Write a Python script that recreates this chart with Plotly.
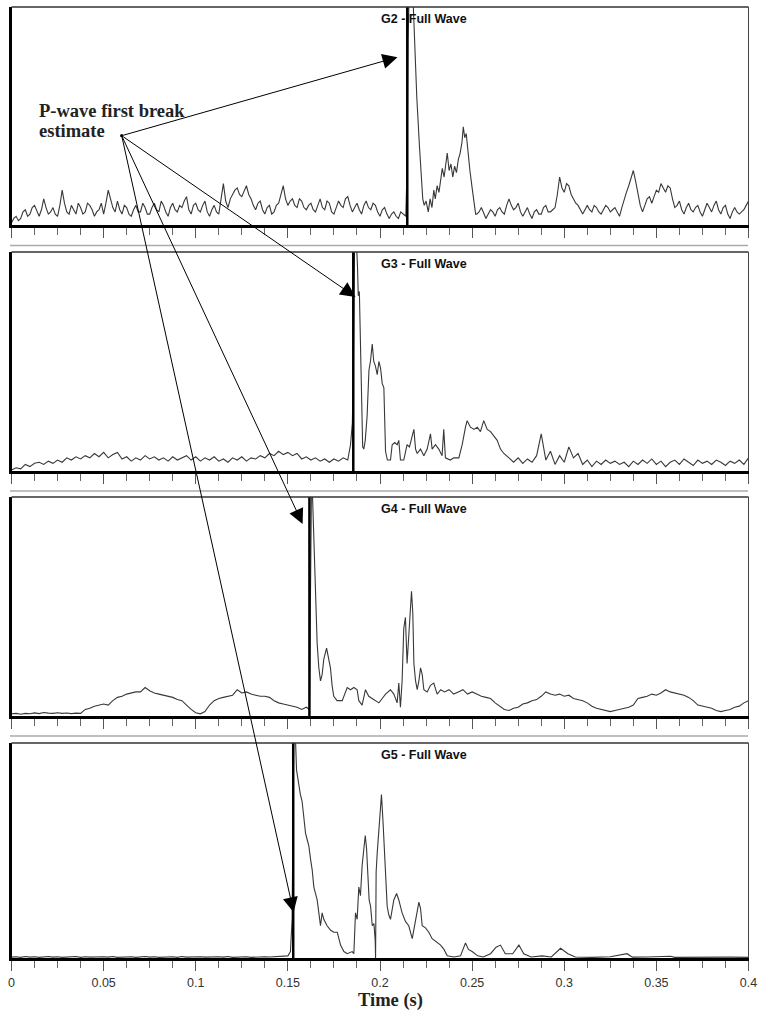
import plotly.graph_objects as go

# ---------------- data ----------------
TICK_VALUES = [0, 0.05, 0.1, 0.15, 0.2, 0.25, 0.3, 0.35, 0.4]
TICK_LABELS = ["0", "0.05", "0.1", "0.15", "0.2", "0.25", "0.3", "0.35", "0.4"]
PANEL_TITLES = ["G2 - Full Wave", "G3 - Full Wave", "G4 - Full Wave", "G5 - Full Wave"]
FIRST_BREAK = [0.2148, 0.1855, 0.1617, 0.1529]          # s, picked first-break lines
ARROW_TIP_T = [0.2095, 0.1867, 0.1580, 0.1531]           # s
ARROW_TIP_A = [0.77, 0.795, 0.877, 0.213]                # normalised amplitude

# G2 (noise read every 0.00125 s) -------------------------------
G2_STEP = 0.00125
G2_LEAD = [0.01, 0.03, 0.04, 0.02, 0.03, 0.06, 0.07, 0.04, 0.05, 0.08, 0.09, 0.06, 0.04, 0.07, 0.12, 0.08, 0.05, 0.06, 0.08, 0.05,
           0.04, 0.09, 0.16, 0.10, 0.06, 0.05, 0.09, 0.07, 0.05, 0.10, 0.08, 0.05, 0.06, 0.10, 0.09, 0.07, 0.04, 0.06, 0.07, 0.10,
           0.05, 0.10, 0.16, 0.12, 0.08, 0.06, 0.11, 0.07, 0.05, 0.09, 0.08, 0.05, 0.04, 0.07, 0.09, 0.06, 0.06, 0.10, 0.08, 0.05,
           0.05, 0.08, 0.10, 0.07, 0.06, 0.11, 0.09, 0.06, 0.04, 0.08, 0.10, 0.07, 0.06, 0.09, 0.08, 0.11, 0.13, 0.07, 0.05, 0.09,
           0.10, 0.07, 0.06, 0.09, 0.11, 0.06, 0.04, 0.07, 0.09, 0.06, 0.05, 0.12, 0.19, 0.11, 0.08, 0.12, 0.14, 0.16, 0.17, 0.14,
           0.13, 0.16, 0.18, 0.14, 0.12, 0.09, 0.07, 0.10, 0.11, 0.07, 0.05, 0.08, 0.09, 0.05, 0.06, 0.09, 0.10, 0.14, 0.18, 0.12,
           0.09, 0.11, 0.12, 0.09, 0.08, 0.12, 0.11, 0.08, 0.07, 0.09, 0.10, 0.07, 0.06, 0.09, 0.12, 0.08, 0.07, 0.11, 0.10, 0.06,
           0.05, 0.08, 0.11, 0.09, 0.08, 0.12, 0.13, 0.09, 0.06, 0.08, 0.10, 0.07, 0.05, 0.09, 0.11, 0.08, 0.07, 0.10, 0.09, 0.06,
           0.04, 0.07, 0.08, 0.05, 0.03, 0.05, 0.06, 0.04, 0.03, 0.06, 0.05]
G2_BURST = [(0.2140, 0.04), (0.2148, 0.30), (0.2152, 0.85), (0.2158, 1.05), (0.2170, 1.08),
            (0.2180, 1.02), (0.2186, 0.88), (0.2200, 0.58), (0.2215, 0.35), (0.2222, 0.26),
            (0.2232, 0.12), (0.2240, 0.09), (0.2250, 0.11), (0.2262, 0.06), (0.2272, 0.12),
            (0.2282, 0.08), (0.2292, 0.16), (0.2300, 0.12), (0.2310, 0.18), (0.2320, 0.15),
            (0.2330, 0.21), (0.2338, 0.26), (0.2348, 0.22), (0.2358, 0.30), (0.2365, 0.33),
            (0.2375, 0.25), (0.2385, 0.28), (0.2395, 0.22), (0.2405, 0.27), (0.2415, 0.24),
            (0.2425, 0.30), (0.2435, 0.33), (0.2445, 0.38), (0.2452, 0.45), (0.2460, 0.40),
            (0.2468, 0.42), (0.2478, 0.33), (0.2488, 0.25), (0.2500, 0.17), (0.2510, 0.10),
            (0.2519, 0.05)]
G2_TAIL_START = 0.2525
G2_TAIL = [0.05, 0.06, 0.08, 0.05, 0.03, 0.05, 0.07, 0.06, 0.04, 0.07, 0.08, 0.06, 0.05, 0.09, 0.12, 0.09, 0.07, 0.08, 0.10, 0.06,
           0.04, 0.06, 0.08, 0.05, 0.03, 0.06, 0.07, 0.05, 0.05, 0.08, 0.09, 0.06, 0.06, 0.07, 0.08, 0.14, 0.22, 0.17, 0.15, 0.19,
           0.18, 0.14, 0.12, 0.10, 0.09, 0.07, 0.05, 0.07, 0.09, 0.07, 0.06, 0.09, 0.08, 0.06, 0.05, 0.07, 0.09, 0.08, 0.06, 0.07,
           0.08, 0.06, 0.04, 0.08, 0.12, 0.15, 0.18, 0.21, 0.25, 0.20, 0.15, 0.09, 0.06, 0.09, 0.12, 0.13, 0.10, 0.13, 0.16, 0.15,
           0.19, 0.17, 0.15, 0.18, 0.17, 0.12, 0.08, 0.09, 0.11, 0.07, 0.05, 0.08, 0.10, 0.07, 0.06, 0.08, 0.09, 0.06, 0.04, 0.07,
           0.10, 0.08, 0.06, 0.09, 0.11, 0.07, 0.05, 0.08, 0.09, 0.05, 0.03, 0.06, 0.08, 0.06, 0.05, 0.06, 0.07, 0.09, 0.11]

# G3 (noise read every 0.0025 s) --------------------------------
G3_STEP = 0.0025
G3_LEAD = [0.005, 0.015, 0.01, 0.03, 0.02, 0.035, 0.04, 0.03, 0.045, 0.035,
           0.05, 0.04, 0.06, 0.05, 0.065, 0.055, 0.07, 0.06, 0.08, 0.065,
           0.085, 0.06, 0.075, 0.085, 0.055, 0.065, 0.045, 0.06, 0.05, 0.07,
           0.055, 0.065, 0.05, 0.06, 0.045, 0.065, 0.05, 0.06, 0.07, 0.05,
           0.065, 0.045, 0.06, 0.05, 0.065, 0.045, 0.055, 0.04, 0.06, 0.05,
           0.065, 0.045, 0.06, 0.055, 0.07, 0.06, 0.08, 0.07, 0.09, 0.075,
           0.085, 0.07, 0.08, 0.055, 0.065, 0.05, 0.06, 0.045, 0.055, 0.04,
           0.055, 0.045, 0.06, 0.05]
G3_BURST = [(0.1840, 0.12), (0.1850, 0.22), (0.1856, 0.50), (0.1862, 1.05), (0.1872, 1.05),
            (0.1878, 0.93), (0.1882, 0.80), (0.1888, 0.82), (0.1894, 0.59), (0.1900, 0.29),
            (0.1906, 0.11), (0.1912, 0.10), (0.1920, 0.14), (0.1930, 0.25), (0.1940, 0.46),
            (0.1948, 0.50), (0.1958, 0.58), (0.1966, 0.50), (0.1975, 0.48), (0.1985, 0.44),
            (0.1994, 0.50), (0.2003, 0.47), (0.2012, 0.40), (0.2021, 0.38), (0.2026, 0.22),
            (0.2030, 0.09), (0.2040, 0.05), (0.2057, 0.05), (0.2066, 0.12), (0.2080, 0.13),
            (0.2093, 0.12), (0.2102, 0.14), (0.2111, 0.05), (0.2129, 0.05), (0.2147, 0.12),
            (0.2160, 0.11), (0.2175, 0.16), (0.2184, 0.19), (0.2193, 0.10), (0.2202, 0.08),
            (0.2220, 0.10), (0.2238, 0.07), (0.2256, 0.10), (0.2274, 0.17), (0.2283, 0.10),
            (0.2301, 0.12), (0.2319, 0.10), (0.2337, 0.07), (0.2346, 0.19), (0.2355, 0.06),
            (0.2382, 0.05), (0.2400, 0.06), (0.2428, 0.06), (0.2446, 0.12), (0.2464, 0.20),
            (0.2473, 0.23), (0.2491, 0.20), (0.2510, 0.19), (0.2528, 0.20), (0.2545, 0.18),
            (0.2563, 0.23), (0.2582, 0.19), (0.2600, 0.18), (0.2618, 0.16), (0.2636, 0.14),
            (0.2654, 0.10), (0.2672, 0.08)]
G3_TAIL_START = 0.2700
G3_TAIL = [0.06, 0.04, 0.06, 0.035, 0.055, 0.04, 0.07, 0.17, 0.05, 0.09,
           0.03, 0.07, 0.04, 0.11, 0.06, 0.08, 0.03, 0.05, 0.02, 0.045,
           0.03, 0.05, 0.035, 0.045, 0.03, 0.04, 0.02, 0.045, 0.03, 0.05,
           0.035, 0.055, 0.03, 0.045, 0.02, 0.04, 0.05, 0.03, 0.055, 0.04,
           0.025, 0.05, 0.035, 0.045, 0.03, 0.05, 0.04, 0.025, 0.045, 0.035,
           0.05, 0.03, 0.06]

# G4 (baseline read every 0.0025 s) -----------------------------
G4_STEP = 0.0025
G4_LEAD = [0.01, 0.012, 0.008, 0.012, 0.01, 0.014, 0.011, 0.016, 0.013, 0.012,
           0.015, 0.012, 0.014, 0.011, 0.013, 0.012, 0.03, 0.035, 0.045, 0.05,
           0.055, 0.05, 0.07, 0.085, 0.09, 0.10, 0.105, 0.11, 0.11, 0.13,
           0.115, 0.105, 0.10, 0.095, 0.09, 0.085, 0.075, 0.07, 0.05, 0.03,
           0.015, 0.01, 0.02, 0.05, 0.07, 0.08, 0.085, 0.09, 0.095, 0.12,
           0.105, 0.11, 0.10, 0.095, 0.09, 0.09, 0.085, 0.07, 0.06, 0.055,
           0.05, 0.045, 0.04, 0.03, 0.04]
G4_BURST = [(0.1617, 0.03), (0.1622, 0.60), (0.1628, 1.05), (0.1632, 1.05), (0.1637, 0.92),
            (0.1641, 0.83), (0.1648, 0.63), (0.1654, 0.43), (0.1659, 0.33), (0.1668, 0.22),
            (0.1677, 0.16), (0.1686, 0.19), (0.1695, 0.26), (0.1710, 0.31), (0.1719, 0.27),
            (0.1731, 0.22), (0.1740, 0.14), (0.1749, 0.09), (0.1767, 0.07), (0.1795, 0.07),
            (0.1822, 0.13), (0.1840, 0.12), (0.1858, 0.13), (0.1876, 0.12), (0.1885, 0.07),
            (0.1903, 0.05), (0.1921, 0.12), (0.1939, 0.09), (0.1957, 0.08), (0.1976, 0.07),
            (0.1994, 0.06), (0.2012, 0.08), (0.2030, 0.10), (0.2057, 0.12), (0.2075, 0.10),
            (0.2093, 0.06), (0.2102, 0.15), (0.2111, 0.04), (0.2120, 0.16), (0.2129, 0.40),
            (0.2138, 0.45), (0.2147, 0.24), (0.2156, 0.38), (0.2165, 0.51), (0.2171, 0.57),
            (0.2178, 0.47), (0.2184, 0.24), (0.2193, 0.16), (0.2202, 0.12), (0.2211, 0.16),
            (0.2220, 0.22), (0.2229, 0.19), (0.2238, 0.12), (0.2256, 0.11), (0.2274, 0.14),
            (0.2292, 0.15), (0.2310, 0.10), (0.2330, 0.12), (0.2350, 0.11)]
G4_TAIL_START = 0.2375
G4_TAIL = [0.12, 0.10, 0.11, 0.12, 0.10, 0.11, 0.10, 0.09, 0.085, 0.08,
           0.06, 0.045, 0.03, 0.025, 0.035, 0.04, 0.055, 0.06, 0.07, 0.075,
           0.09, 0.11, 0.10, 0.095, 0.10, 0.09, 0.095, 0.08, 0.075, 0.07,
           0.06, 0.045, 0.035, 0.03, 0.025, 0.02, 0.025, 0.03, 0.035, 0.04,
           0.05, 0.08, 0.085, 0.09, 0.10, 0.095, 0.105, 0.12, 0.11, 0.105,
           0.10, 0.095, 0.085, 0.07, 0.05, 0.045, 0.04, 0.035, 0.025, 0.02,
           0.025, 0.03, 0.04, 0.045, 0.06, 0.07]

# G5 (quiet lead read every 0.0025 s) ---------------------------
G5_STEP = 0.0025
G5_LEAD = [0.004, 0.006, 0.003, 0.007, 0.004, 0.006, 0.003, 0.005, 0.007, 0.004,
           0.006, 0.003, 0.005, 0.004, 0.007, 0.003, 0.006, 0.004, 0.005, 0.003,
           0.006, 0.004, 0.007, 0.003, 0.005, 0.004, 0.006, 0.003, 0.005, 0.007,
           0.004, 0.006, 0.003, 0.005, 0.004, 0.006, 0.003, 0.007, 0.004, 0.005,
           0.003, 0.006, 0.004, 0.005, 0.003, 0.006, 0.004, 0.007, 0.003, 0.005,
           0.004, 0.006, 0.003, 0.005, 0.004, 0.006, 0.005, 0.007, 0.006, 0.008,
           0.01]
G5_BURST = [(0.1514, 0.03), (0.1523, 0.18), (0.1532, 1.05), (0.1540, 1.05), (0.1547, 0.875),
            (0.1559, 0.80), (0.1568, 0.76), (0.1577, 0.73), (0.1587, 0.63), (0.1596, 0.58),
            (0.1605, 0.55), (0.1614, 0.52), (0.1623, 0.46), (0.1632, 0.41), (0.1641, 0.33),
            (0.1659, 0.27), (0.1668, 0.21), (0.1677, 0.15), (0.1686, 0.21), (0.1695, 0.18),
            (0.1713, 0.15), (0.1731, 0.13), (0.1749, 0.12), (0.1768, 0.12), (0.1777, 0.09),
            (0.1786, 0.06), (0.1804, 0.03), (0.1822, 0.02), (0.1849, 0.03), (0.1858, 0.02),
            (0.1867, 0.21), (0.1876, 0.18), (0.1885, 0.33), (0.1894, 0.29), (0.1903, 0.43),
            (0.1912, 0.49), (0.1920, 0.57), (0.1927, 0.51), (0.1934, 0.35), (0.1941, 0.27),
            (0.1949, 0.24), (0.1958, 0.15), (0.1967, 0.16), (0.1974, 0.08), (0.1976, 0.0),
            (0.1979, 0.40), (0.1985, 0.49), (0.1994, 0.58), (0.2003, 0.70), (0.2008, 0.76),
            (0.2016, 0.64), (0.2021, 0.55), (0.2030, 0.40), (0.2039, 0.24), (0.2048, 0.20),
            (0.2057, 0.18), (0.2075, 0.27), (0.2090, 0.30), (0.2102, 0.27), (0.2120, 0.21),
            (0.2138, 0.17), (0.2156, 0.15), (0.2175, 0.09), (0.2193, 0.18), (0.2211, 0.26),
            (0.2220, 0.23), (0.2229, 0.15), (0.2247, 0.14), (0.2265, 0.12), (0.2283, 0.09),
            (0.2310, 0.07), (0.2329, 0.06), (0.2347, 0.04), (0.2365, 0.01), (0.2401, 0.005),
            (0.2437, 0.01), (0.2464, 0.07), (0.2480, 0.04), (0.2500, 0.03), (0.2530, 0.01),
            (0.2560, 0.005), (0.2600, 0.02), (0.2630, 0.05), (0.2654, 0.06), (0.2680, 0.02),
            (0.2720, 0.02), (0.2754, 0.06), (0.2780, 0.02), (0.2820, 0.005), (0.2880, 0.01),
            (0.2930, 0.005), (0.2980, 0.045), (0.3020, 0.02), (0.3060, 0.005), (0.3150, 0.003),
            (0.3250, 0.006), (0.3341, 0.02), (0.3370, 0.004), (0.3450, 0.005), (0.3577, 0.008),
            (0.3600, 0.003), (0.3700, 0.004), (0.3800, 0.003), (0.3900, 0.004), (0.4000, 0.003)]
G5_TAIL_START = 0.4
G5_TAIL = []

PANELS = [
    (G2_STEP, G2_LEAD, G2_BURST, G2_TAIL_START, G2_TAIL),
    (G3_STEP, G3_LEAD, G3_BURST, G3_TAIL_START, G3_TAIL),
    (G4_STEP, G4_LEAD, G4_BURST, G4_TAIL_START, G4_TAIL),
    (G5_STEP, G5_LEAD, G5_BURST, G5_TAIL_START, G5_TAIL),
]

# ---------------- layout geometry (page pixels) ----------------
W, H = 760, 1010
X_LEFT_PX, X_RIGHT_PX = 11.5, 748.5
PANEL_PX = [(7, 225), (252, 471), (497, 716), (743, 958)]   # (top, bottom)
SEPARATOR_PX = [245.5, 491.0, 736.0]
LABEL_TAIL_PX = (121.7, 135.7)
X_MAX = 0.4

FONT_SANS = "Liberation Sans, Arial, sans-serif"
FONT_SERIF = "Liberation Serif, Times New Roman, serif"
TRACE_COLOR = "#383838"


def px_x(px):
    return min(1.0, max(0.0, px / W))


def px_y(py):
    return min(1.0, max(0.0, 1 - py / H))


def t_to_px(t):
    return X_LEFT_PX + t / X_MAX * (X_RIGHT_PX - X_LEFT_PX)


def a_to_py(a, panel):
    top, bot = PANEL_PX[panel]
    return bot - a * (bot - top)


fig = go.Figure()
layout = dict(
    width=W, height=H,
    margin=dict(l=0, r=0, t=0, b=0, pad=0),
    paper_bgcolor="white", plot_bgcolor="white",
    showlegend=False,
)

shapes = []
annotations = []

for i, (step, lead, burst, tail_start, tail) in enumerate(PANELS):
    n = "" if i == 0 else str(i + 1)
    xa, ya = "x" + n, "y" + n
    top, bot = PANEL_PX[i]

    t_vals = [k * step for k in range(len(lead))]
    a_vals = list(lead)
    t_vals += [p[0] for p in burst]
    a_vals += [p[1] for p in burst]
    t_vals += [tail_start + k * step for k in range(len(tail))]
    a_vals += list(tail)

    fig.add_trace(go.Scatter(x=t_vals, y=a_vals, mode="lines", xaxis=xa, yaxis=ya,
                             line=dict(color=TRACE_COLOR, width=1.1), hoverinfo="skip"))
    fig.add_trace(go.Scatter(x=[FIRST_BREAK[i], FIRST_BREAK[i]], y=[0, 1], mode="lines",
                             xaxis=xa, yaxis=ya, line=dict(color="black", width=2.5),
                             hoverinfo="skip"))

    last = i == len(PANELS) - 1
    layout["xaxis" + n] = dict(
        domain=[px_x(X_LEFT_PX), px_x(X_RIGHT_PX)], anchor=ya, range=[0, X_MAX],
        showgrid=False, zeroline=False, showline=True, linecolor="black", linewidth=3,
        tickmode="array", tickvals=TICK_VALUES, ticktext=TICK_LABELS,
        ticks="outside", ticklen=10, tickwidth=1, tickcolor="#555",
        minor=dict(tickmode="linear", tick0=0, dtick=0.0125, ticks="outside",
                   ticklen=7, tickwidth=1, tickcolor="#666"),
        showticklabels=last, ticklabelstandoff=1,
        tickfont=dict(family=FONT_SANS, size=12.5, color="#333"),
        automargin=False, fixedrange=True,
    )
    layout["yaxis" + n] = dict(
        domain=[px_y(bot), px_y(top)], anchor=xa, range=[0, 1],
        showgrid=False, zeroline=False, showline=True, linecolor="black", linewidth=3,
        showticklabels=False, ticks="", automargin=False, fixedrange=True,
    )

    # top and right frame
    shapes.append(dict(type="line", xref=xa + " domain", yref=ya + " domain",
                       x0=0, x1=1, y0=1, y1=1, line=dict(color="#333", width=1.5)))
    shapes.append(dict(type="line", xref=xa + " domain", yref=ya + " domain",
                       x0=1, x1=1, y0=0, y1=1, line=dict(color="#444", width=1)))

    # panel title
    annotations.append(dict(text="<b>" + PANEL_TITLES[i] + "</b>", xref="paper", yref="paper",
                            x=px_x(424), y=px_y(top + 12), xanchor="center", yanchor="middle",
                            showarrow=False, font=dict(family=FONT_SANS, size=12.5, color="#111")))

    # arrow from the label to the pick
    tip_px = t_to_px(ARROW_TIP_T[i])
    tip_py = a_to_py(ARROW_TIP_A[i], i)
    annotations.append(dict(text="", x=ARROW_TIP_T[i], y=ARROW_TIP_A[i], xref=xa, yref=ya,
                            showarrow=True, axref="pixel", ayref="pixel",
                            ax=LABEL_TAIL_PX[0] - tip_px, ay=LABEL_TAIL_PX[1] - tip_py,
                            arrowhead=2, arrowsize=3, arrowwidth=1, arrowcolor="black",
                            standoff=0))

# separators
for sy in SEPARATOR_PX:
    shapes.append(dict(type="line", xref="paper", yref="paper", x0=px_x(10), x1=px_x(748),
                       y0=px_y(sy), y1=px_y(sy), line=dict(color="#aaaaaa", width=1.5)))

# label dot
r = 1.6
shapes.append(dict(type="circle", xref="paper", yref="paper",
                   x0=px_x(LABEL_TAIL_PX[0] - r), x1=px_x(LABEL_TAIL_PX[0] + r),
                   y0=px_y(LABEL_TAIL_PX[1] + r), y1=px_y(LABEL_TAIL_PX[1] - r),
                   fillcolor="black", line=dict(color="black", width=0)))

annotations.append(dict(text="<b>P-wave first break</b>", xref="paper", yref="paper",
                        x=px_x(37), y=px_y(111), xanchor="left", yanchor="middle",
                        showarrow=False, font=dict(family=FONT_SERIF, size=18.5, color="#222")))
annotations.append(dict(text="<b>estimate</b>", xref="paper", yref="paper",
                        x=px_x(37), y=px_y(131), xanchor="left", yanchor="middle",
                        showarrow=False, font=dict(family=FONT_SERIF, size=18.5, color="#222")))
annotations.append(dict(text="<b>Time (s)</b>", xref="paper", yref="paper",
                        x=px_x(390), y=px_y(1000), xanchor="center", yanchor="middle",
                        showarrow=False, font=dict(family=FONT_SERIF, size=18.5, color="#222")))

layout["shapes"] = shapes
layout["annotations"] = annotations
fig.update_layout(**layout)

fig.write_html("out.html", config={"displayModeBar": False},
               post_script="document.body.style.margin='0px';document.body.style.overflow='hidden';")
